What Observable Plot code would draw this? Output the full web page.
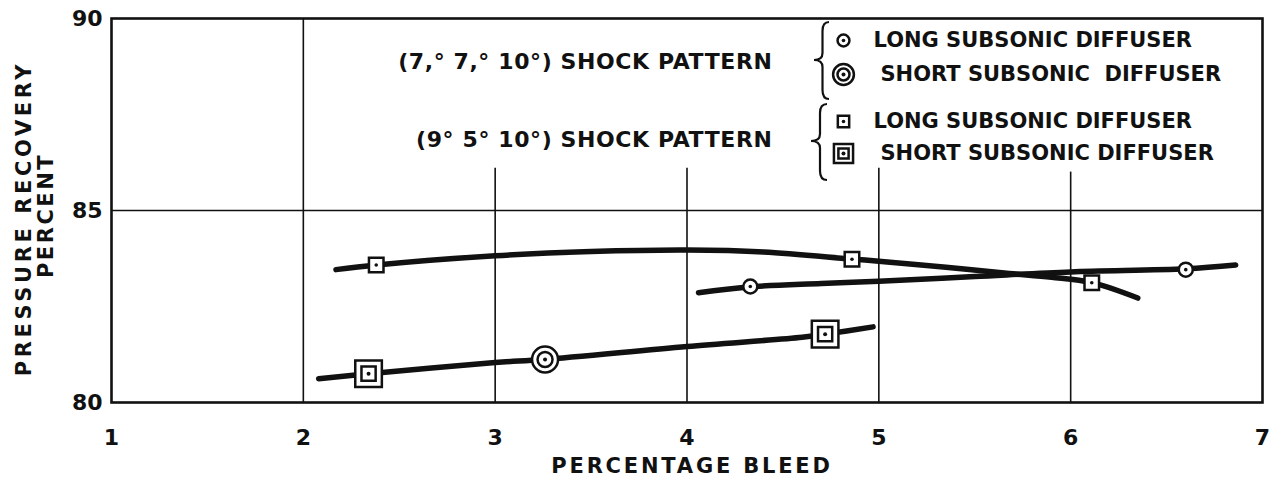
<!DOCTYPE html>
<html>
<head>
<meta charset="utf-8">
<script src="https://cdn.jsdelivr.net/npm/d3@7"></script>
<script src="https://cdn.jsdelivr.net/npm/@observablehq/plot@0.6"></script>
<style>
  html, body { margin: 0; padding: 0; background: #fff; }
  #chart { width: 1283px; height: 482px; }
</style>
</head>
<body>
<div id="chart"></div>
<script>
// ---- data ----
const xTicks = [1, 2, 3, 4, 5, 6, 7];
const yTicks = [80, 85, 90];
const xLabel = "PERCENTAGE BLEED";
const yLabelLines = ["PRESSURE RECOVERY", "PERCENT"];

// faired curves (x = percentage bleed, y = pressure recovery %)
const curveLong955 = [[2.17, 83.46], [2.38, 83.58], [3.0, 83.82], [3.5, 83.93], [4.0, 83.97], [4.4, 83.92], [4.85, 83.74], [5.0, 83.68], [5.35, 83.52], [5.68, 83.36], [5.9, 83.26], [6.11, 83.12], [6.35, 82.72]];
const curveLong777 = [[4.06, 82.86], [4.32, 83.01], [4.7, 83.10], [5.0, 83.16], [5.5, 83.28], [6.0, 83.40], [6.6, 83.48], [6.86, 83.58]];
const curveShort = [[2.08, 80.62], [2.34, 80.75], [3.0, 81.04], [3.25, 81.12], [4.0, 81.46], [4.6, 81.70], [4.72, 81.78], [4.97, 81.97]];

// test points
const longDiffuser777 = [[4.33, 83.02], [6.60, 83.46]];
const shortDiffuser777 = [[3.26, 81.12]];
const longDiffuser955 = [[2.38, 83.58], [4.86, 83.73], [6.11, 83.12]];
const shortDiffuser955 = [[2.34, 80.75], [4.72, 81.78]];

// legend texts
const patternLabels = ["(7,° 7,° 10°) SHOCK PATTERN", "(9° 5° 10°) SHOCK PATTERN"];
const diffuserLabels = ["LONG SUBSONIC DIFFUSER", "SHORT SUBSONIC  DIFFUSER", "LONG SUBSONIC DIFFUSER", "SHORT SUBSONIC DIFFUSER"];

// ---- drawing ----
const INK = "#111";
const mL = 111, mT = 18;
const px = d => d[0], py = d => d[1];

// position options: data-driven (x,y channels) or legend (frame-anchored pixel offset)
function pos(o) {
  return o.leg
    ? {frameAnchor: "top-left", dx: o.dx, dy: o.dy}
    : {x: px, y: py};
}
function circleSmall(data, o = {}) {
  const p = pos(o), k = o.k ?? 1;
  return [
    Plot.dot(data, {...p, r: 7 * k, fill: "white", stroke: INK, strokeWidth: 2.5}),
    Plot.dot(data, {...p, r: 1.8, fill: INK})
  ];
}
function circleLarge(data, o = {}) {
  const p = pos(o), k = o.k ?? 1;
  return [
    Plot.dot(data, {...p, r: 13 * k, fill: "white", stroke: INK, strokeWidth: 2.5}),
    Plot.dot(data, {...p, r: 7.5 * k, fill: "none", stroke: INK, strokeWidth: 2.5}),
    Plot.dot(data, {...p, r: 2, fill: INK})
  ];
}
function squareSmall(data, o = {}) {
  const p = pos(o), k = o.k ?? 1;
  return [
    Plot.dot(data, {...p, symbol: "square", r: 8.2 * k, fill: "white", stroke: INK, strokeWidth: 2.5}),
    Plot.dot(data, {...p, r: 1.8, fill: INK})
  ];
}
function squareLarge(data, o = {}) {
  const p = pos(o), k = o.k ?? 1;
  return [
    Plot.dot(data, {...p, symbol: "square", r: 15 * k, fill: "white", stroke: INK, strokeWidth: 2.5}),
    Plot.dot(data, {...p, symbol: "square", r: 8 * k, fill: "none", stroke: INK, strokeWidth: 2.5}),
    Plot.dot(data, {...p, r: 2, fill: INK})
  ];
}

// legend layout (pixels)
const legSymX = 843, legTextX = [873, 880, 873, 880], legRowY = [40, 74, 121, 153];
const patTextEndX = 772, patRowY = [61, 139];
const L = i => ({leg: true, dx: legSymX - mL, dy: legRowY[i] - mT});
const legendSymbols = [
  ...circleSmall([0], {...L(0), k: 0.85}),
  ...circleLarge([0], {...L(1), k: 0.8}),
  ...squareSmall([0], {...L(2), k: 0.78}),
  ...squareLarge([0], {...L(3), k: 0.72})
];

const lineOpts = {x: px, y: py, curve: "catmull-rom", stroke: INK, strokeWidth: 5.5, strokeLinecap: "round", strokeLinejoin: "round"};

const chart = Plot.plot({
  width: 1283,
  height: 482,
  marginLeft: mL,
  marginRight: 21,
  marginTop: mT,
  marginBottom: 80,
  style: {fontFamily: "'DejaVu Sans', sans-serif", fontSize: "22px", fontWeight: "bold", color: INK, background: "white"},
  x: {domain: [xTicks[0], xTicks[xTicks.length - 1]]},
  y: {domain: [yTicks[0], yTicks[yTicks.length - 1]]},
  marks: [
    // grid
    Plot.ruleY(yTicks.slice(1, -1), {stroke: INK, strokeWidth: 1.6}),
    Plot.ruleX(xTicks.slice(1, -1), {y1: yTicks[0], y2: d => d === 2 ? yTicks[2] : (d === 6 ? 86.0 : 86.1), stroke: INK, strokeWidth: 1.6}),
    Plot.frame({stroke: INK, strokeWidth: 2.6}),
    // axes
    Plot.axisY({ticks: yTicks, tickSize: 0, tickPadding: 9, label: null, tickFormat: d => String(d)}),
    Plot.axisX({ticks: xTicks, tickSize: 0, tickPadding: 27, label: null, tickFormat: d => String(d)}),
    // curves
    Plot.line(curveLong955, lineOpts),
    Plot.line(curveLong777, lineOpts),
    Plot.line(curveShort, lineOpts),
    // points
    ...circleSmall(longDiffuser777),
    ...circleLarge(shortDiffuser777),
    ...squareSmall(longDiffuser955),
    ...squareLarge(shortDiffuser955),
    // axis titles
    Plot.text([xLabel], {frameAnchor: "bottom", dx: 5, dy: 64, fontSize: 21, lineAnchor: "middle"}),
    Plot.text([yLabelLines[0]], {frameAnchor: "left", rotate: -90, dx: 24 - mL, dy: 8, fontSize: 21, textAnchor: "middle", lineAnchor: "middle"}),
    Plot.text([yLabelLines[1]], {frameAnchor: "left", rotate: -90, dx: 46 - mL, dy: 5, fontSize: 21, textAnchor: "middle", lineAnchor: "middle"}),
    // legend
    ...patternLabels.map((t, i) => Plot.text([t], {frameAnchor: "top-left", dx: patTextEndX - mL, dy: patRowY[i] - mT, textAnchor: "end", fontSize: 22, lineAnchor: "middle"})),
    ...diffuserLabels.map((t, i) => Plot.text([t], {frameAnchor: "top-left", dx: legTextX[i] - mL, dy: legRowY[i] - mT, textAnchor: "start", fontSize: 21, lineAnchor: "middle"})),
    ...legendSymbols
  ]
});

document.getElementById("chart").appendChild(chart);

// letter spacing on some texts, braces in the legend
const svg = d3.select(chart);
svg.selectAll("text").each(function () {
  const t = this.textContent;
  if (t.startsWith("PRESSURE")) this.setAttribute("letter-spacing", "3.6");
  if (t.startsWith("PERCENT") && !t.startsWith("PERCENTAGE")) this.setAttribute("letter-spacing", "2.5");
  if (t.startsWith("PERCENTAGE")) this.setAttribute("letter-spacing", "2.8");
  if (t.includes("SHOCK")) this.setAttribute("letter-spacing", "0.6");
});
function brace(xr, xt, top, tip, bottom) {
  const xm = (xr + xt) / 2 + 1;
  return `M${xr},${top} Q${xm},${top} ${xm},${top + 9} L${xm},${tip - 7} Q${xm},${tip} ${xt},${tip} Q${xm},${tip} ${xm},${tip + 7} L${xm},${bottom - 9} Q${xm},${bottom} ${xr},${bottom}`;
}
svg.append("path").attr("d", brace(829, 814, 22, 60, 99)).attr("fill", "none").attr("stroke", INK).attr("stroke-width", 2.2);
svg.append("path").attr("d", brace(827, 811, 104, 141, 180)).attr("fill", "none").attr("stroke", INK).attr("stroke-width", 2.2);
</script>
</body>
</html>
